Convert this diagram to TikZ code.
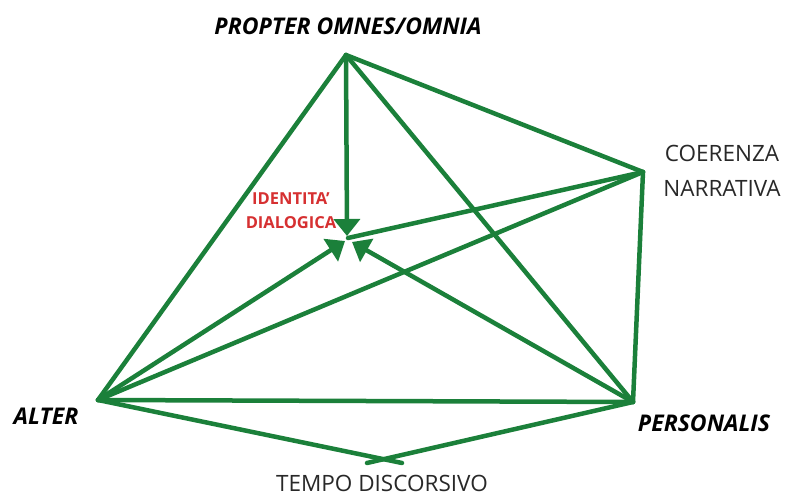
\documentclass[tikz,border=0pt]{standalone}
\usepackage{fontspec}
\setmainfont{Open Sans}
\usetikzlibrary{arrows.meta}
\definecolor{edgegreen}{RGB}{27,128,58}
\definecolor{labelred}{RGB}{214,48,49}
\definecolor{labelgray}{RGB}{40,40,40}
\tikzset{
	link/.style={edgegreen,line width=4.5pt,line cap=round,line join=round},
	arr/.style={link,-{Triangle[length=17pt,width=26pt]}},
	bolditlabel/.style={font=\fontsize{23}{26}\selectfont\bfseries\itshape,text=black},
	plainlabel/.style={font=\fontsize{22.5}{35}\selectfont,text=labelgray,align=center},
	redlabel/.style={font=\fontsize{16.5}{24}\selectfont\bfseries,text=labelred,align=center}
}

\begin{document}
\begin{tikzpicture}[x=1pt,y=-1pt]
		\useasboundingbox (0,0) rectangle (788,502);
		
		% -------------------------------------------------
		% 1. Vertices
		% -------------------------------------------------
		\coordinate (Pt) at (346,55);
		\coordinate (Co) at (643,172);
		\coordinate (Al) at (98,400);
		\coordinate (Pe) at (633,402);
		\coordinate (Tl) at (402,463);
		\coordinate (Tr) at (367,463);
		
		% tips in the middle
		\coordinate (Mtop) at (347,236);
		\coordinate (Mleft) at (345,241);
		\coordinate (Mright) at (352,242);
		\coordinate (Mline) at (348,238);
		
		% -------------------------------------------------
		% 2. Outer edges
		% -------------------------------------------------
		\draw[link] (Pt) -- (Al);
		\draw[link] (Pt) -- (Co);
		\draw[link] (Pt) -- (Pe);
		\draw[link] (Co) -- (Pe);
		\draw[link] (Co) -- (Al);
		\draw[link] (Al) -- (Pe);
		\draw[link] (Co) -- (Mline);
		
		% tempo: crossing lines
		\draw[link] (Al) -- (Tl);
		\draw[link] (Pe) -- (Tr);
		
		% -------------------------------------------------
		% 3. Arrows to the centre
		% -------------------------------------------------
		\draw[arr] (Pt) -- (Mtop);
		\draw[arr] (Al) -- (Mleft);
		\draw[arr] (Pe) -- (Mright);
		
		% -------------------------------------------------
		% 4. Labels
		% -------------------------------------------------
		\node[bolditlabel,anchor=base] (propter) at (348,35) {PROPTER OMNES/OMNIA};
		\node[bolditlabel,anchor=base] (alter) at (46,425) {ALTER};
		\node[bolditlabel,anchor=base] (personalis) at (704,432) {PERSONALIS};
		\node[plainlabel] (coerenza) at (722,171) {COERENZA\\NARRATIVA};
		\node[plainlabel,anchor=base] (tempo) at (382,492) {TEMPO DISCORSIVO};
		\node[redlabel] (identita) at (291,211) {IDENTITA'\\DIALOGICA};
		
	\end{tikzpicture}
\end{document}
